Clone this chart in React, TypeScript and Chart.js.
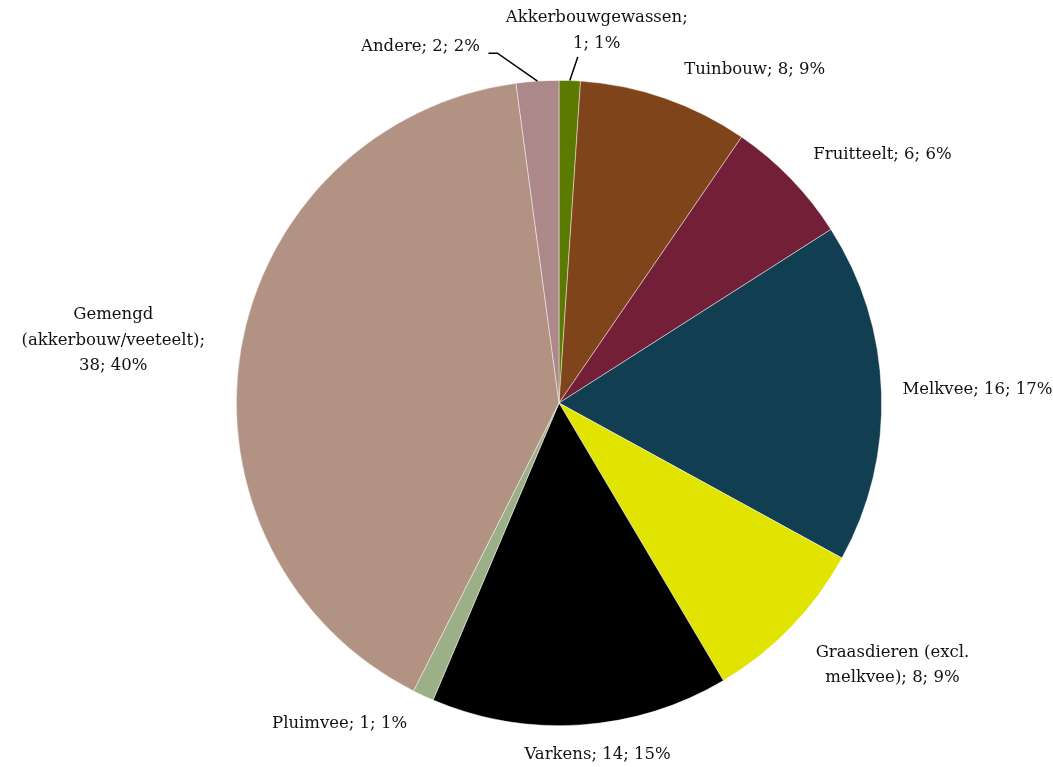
import React, { useEffect, useRef } from "react";
import { Chart, registerables } from "chart.js";

Chart.register(...registerables);

const categories = [
  "Akkerbouwgewassen",
  "Tuinbouw",
  "Fruitteelt",
  "Melkvee",
  "Graasdieren (excl. melkvee)",
  "Varkens",
  "Pluimvee",
  "Gemengd (akkerbouw/veeteelt)",
  "Andere",
];
const values = [1, 8, 6, 16, 8, 14, 1, 38, 2];
const colors = [
  "#5b7b00",
  "#7f4419",
  "#731f37",
  "#123e51",
  "#e1e300",
  "#000000",
  "#9cb087",
  "#b19283",
  "#ac888b",
];
// word indices after which a label line breaks
const labelBreaks: number[][] = [[1], [], [], [], [2], [], [], [1, 2], []];
// label placement nudges relative to the radial anchor (styling)
const labelNudge: [number, number][] = [
  [26, -20],
  [80, 0],
  [70, -3],
  [66, -1],
  [80, 17],
  [15, 0],
  [-71, 1],
  [-98, -4],
  [-115, -4],
];
// leader line points relative to the label centre (null = no leader)
const leaders: ([number, number][] | null)[] = [
  [[-19, 26.5]],
  null,
  null,
  null,
  null,
  null,
  null,
  null,
  [[68, 6], [77, 6]],
];

const FONT = '16.5px "DejaVu Serif"';
const LINE_H = 25.5;

const total = values.reduce((a, b) => a + b, 0);

function labelLines(i: number): string[] {
  const pct = Math.round((values[i] / total) * 100);
  const words = `${categories[i]}; ${values[i]}; ${pct}%`.split(" ");
  const breaks = labelBreaks[i];
  const lines: string[] = [];
  let cur: string[] = [];
  words.forEach((w, k) => {
    cur.push(w);
    if (breaks.includes(k + 1)) {
      lines.push(cur.join(" "));
      cur = [];
    }
  });
  if (cur.length) lines.push(cur.join(" "));
  return lines;
}

const labelPlugin = {
  id: "pieLabels",
  afterDatasetsDraw(chart: any) {
    const ctx = chart.ctx as CanvasRenderingContext2D;
    const meta = chart.getDatasetMeta(0);
    ctx.save();
    ctx.font = FONT;
    ctx.fillStyle = "#111111";
    ctx.textAlign = "center";
    ctx.textBaseline = "middle";
    meta.data.forEach((el: any, i: number) => {
      const { x, y, startAngle, endAngle, outerRadius } = el.getProps(
        ["x", "y", "startAngle", "endAngle", "outerRadius"],
        true
      );
      const mid = (startAngle + endAngle) / 2;
      const R = outerRadius + 30;
      const cx = x + Math.cos(mid) * R + labelNudge[i][0];
      const cy = y + Math.sin(mid) * R + labelNudge[i][1];
      const lines = labelLines(i);
      const y0 = cy - ((lines.length - 1) * LINE_H) / 2;
      lines.forEach((ln, k) => ctx.fillText(ln, cx, y0 + k * LINE_H));
      const lead = leaders[i];
      if (lead) {
        ctx.beginPath();
        ctx.strokeStyle = "#000";
        ctx.lineWidth = 1.5;
        lead.forEach(([dx, dy], k) => {
          if (k === 0) ctx.moveTo(cx + dx, cy + dy);
          else ctx.lineTo(cx + dx, cy + dy);
        });
        ctx.lineTo(x + Math.cos(mid) * outerRadius, y + Math.sin(mid) * outerRadius);
        ctx.stroke();
      }
    });
    ctx.restore();
  },
};

export default function App() {
  const ref = useRef<HTMLCanvasElement | null>(null);
  useEffect(() => {
    if (!ref.current) return;
    const chart = new Chart(ref.current, {
      type: "pie",
      data: {
        labels: categories,
        datasets: [
          {
            data: values,
            backgroundColor: colors,
            borderColor: "rgba(255,255,255,0.6)",
            borderWidth: 0.75,
          },
        ],
      },
      options: {
        responsive: false,
        animation: false,
        layout: { padding: { left: 236, right: 171, top: 80, bottom: 41 } },
        plugins: {
          legend: { display: false },
          tooltip: { enabled: false },
        },
      },
      plugins: [labelPlugin],
    });
    return () => chart.destroy();
  }, []);
  return (
    <div style={{ position: "absolute", left: 0, top: 0, width: 1053, height: 767, background: "#fff" }}>
      <canvas ref={ref} width={1053} height={767} />
    </div>
  );
}
